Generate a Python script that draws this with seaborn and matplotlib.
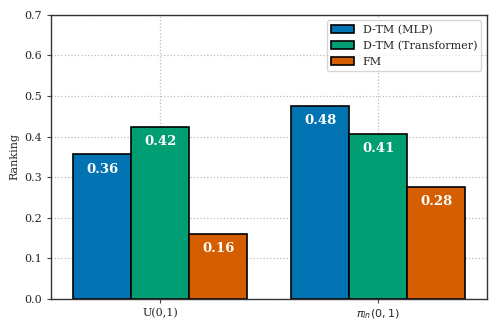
import numpy as np
import pandas as pd
import seaborn as sns
import matplotlib.pyplot as plt

# values
priors = ["U(0,1)", r"$\pi_{ln}(0,1)$"]
models = ["D-TM (MLP)", "D-TM (Transformer)", "FM"]
mlp = [0.357, 0.476]
transformer = [0.424, 0.407]
fm = [0.160, 0.276]

df = pd.DataFrame({
    "prior": priors * 3,
    "model": [models[0]] * 2 + [models[1]] * 2 + [models[2]] * 2,
    "ranking": mlp + transformer + fm,
})

sns.set_style("white")
plt.rcParams["font.family"] = ["DejaVu Serif", "DejaVu Sans"]
plt.rcParams["mathtext.fontset"] = "dejavusans"

cb = sns.color_palette("colorblind")
colors = [cb[0], cb[2], cb[3]]

fig, ax = plt.subplots(figsize=(4.98, 3.32), dpi=100)
sns.barplot(data=df, x="prior", y="ranking", hue="model", palette=colors,
            edgecolor="black", linewidth=1.2, saturation=1, ax=ax)

for container in ax.containers:
    for bar in container:
        h = bar.get_height()
        ax.text(bar.get_x() + bar.get_width() / 2, h - 0.021, f"{h:.2f}",
                ha="center", va="top", color="white", fontweight="bold", fontsize=9.5)

ax.set_ylim(0, 0.7)
ax.set_xlim(-0.5, 1.5)
ax.set_xlabel("")
ax.set_ylabel("Ranking", fontsize=8)
ax.tick_params(axis="both", labelsize=8, length=3, color="#444444", left=True, bottom=True)
ax.grid(True, linestyle=":", color="#bbbbbb", linewidth=0.9)
ax.set_axisbelow(True)
for s in ax.spines.values():
    s.set_color("#333333")
    s.set_linewidth(1.0)
ax.legend(loc="upper right", fontsize=8, frameon=True)

fig.subplots_adjust(left=0.103, right=0.978, bottom=0.1, top=0.955)
fig.savefig("out.png", dpi=100)
